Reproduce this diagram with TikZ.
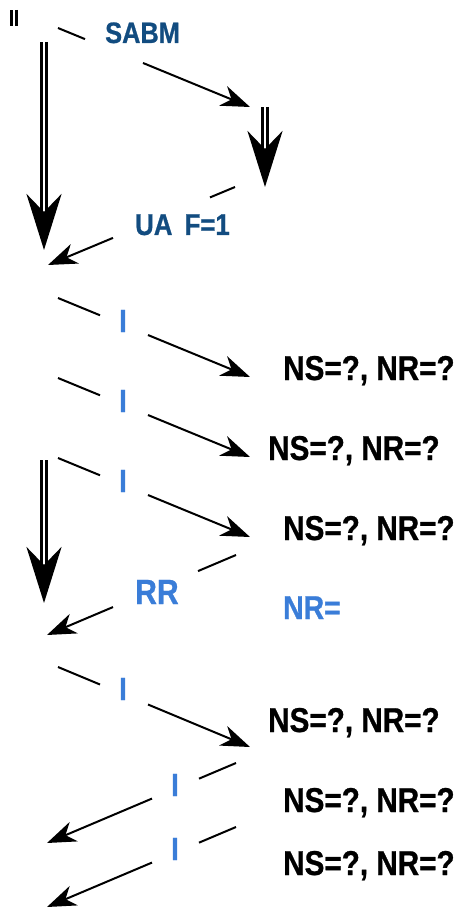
\documentclass[tikz,border=0pt]{standalone}
\usepackage{fontspec}
\setmainfont{Liberation Sans}[FakeStretch=0.86, BoldFeatures={FakeBold=0.8}]
\usepackage{tikz}
\usetikzlibrary{arrows.meta, calc}
\definecolor{frameblue}{RGB}{18,76,128}
\definecolor{iblue}{RGB}{58,125,216}

\begin{document}
\begin{tikzpicture}[x=1pt, y=-1pt,
  every node/.style={inner sep=0pt, font=\bfseries},
  msg/.style={line width=2pt},
  msgarr/.style={msg, -{Stealth[length=29pt, width=21pt, inset=9pt]}},
  dbl/.style={double, double distance=1.7pt, line width=3.3pt},
  dblarr/.style={dbl, -{Stealth[length=56pt, width=35pt, inset=18pt]}},
  frm/.style={anchor=base west, text=frameblue},
  ilab/.style={anchor=base, text=iblue, font=\bfseries\fontsize{32}{36}\selectfont},
  ns/.style={anchor=base west, font=\bfseries\fontsize{34.5}{38}\selectfont}
]
  \useasboundingbox (0,0) rectangle (460,909);

  \coordinate (q0) at (14,10);  \coordinate (q1) at (14,26);
  \coordinate (l0) at (44,42);  \coordinate (l1) at (44,250);
  \coordinate (r0) at (265,107); \coordinate (r1) at (265,187);
  \coordinate (m0) at (44,460); \coordinate (m1) at (44,603);
  \draw[dbl] (q0) -- (q1);
  \draw[dblarr] (l0) -- (l1);
  \draw[dblarr] (r0) -- (r1);
  \draw[dblarr] (m0) -- (m1);

  \foreach \n/\sx/\sy/\ax/\bx/\ex/\ey in {
    1/58/28/85/143/250/107,
    2/235/187/210/113/48/265,
    3/58/298/100/148/250/377,
    4/58/378/100/148/250/457,
    5/58/458/100/148/250/537,
    6/236/555/198/113/47/635,
    7/58/667/100/148/250/747,
    8/236/763/199/152/47/843,
    9/236/827/199/152/47/907}
  {
    \pgfmathsetmacro\fa{(\ax-\sx)/(\ex-\sx)}
    \pgfmathsetmacro\fb{(\bx-\sx)/(\ex-\sx)}
    \coordinate (s\n) at (\sx,\sy);
    \coordinate (e\n) at (\ex,\ey);
    \coordinate (a\n) at ($(s\n)!\fa!(e\n)$);
    \coordinate (b\n) at ($(s\n)!\fb!(e\n)$);
    \draw[msg] (s\n) -- (a\n);
    \draw[msgarr] (b\n) -- (e\n);
  }

  \node[frm, font=\bfseries\fontsize{29.5}{32}\selectfont] (sabm) at (105,43) {SABM};
  \node[frm, font=\bfseries\fontsize{30}{34}\selectfont] (ua) at (135,235) {UA\, F=1};

  \foreach \n/\x/\y in {1/123/332, 2/123/412, 3/123/492, 4/123/700, 5/175/796, 6/175/860}
    \node[ilab] (i\n) at (\x,\y) {I};

  \node[anchor=base west, text=iblue, font=\bfseries\fontsize{35}{40}\selectfont] (rr) at (135,604) {RR};
  \node[anchor=base west, text=iblue, font=\bfseries\fontsize{33}{38}\selectfont] (nr) at (283,619) {NR=};

  \foreach \n/\x/\y in {1/283/380, 2/268/460, 3/283/540, 4/268/732, 5/283/812, 6/283/875}
    \node[ns] (ns\n) at (\x,\y) {NS=?, NR=?};
\end{tikzpicture}
\end{document}
